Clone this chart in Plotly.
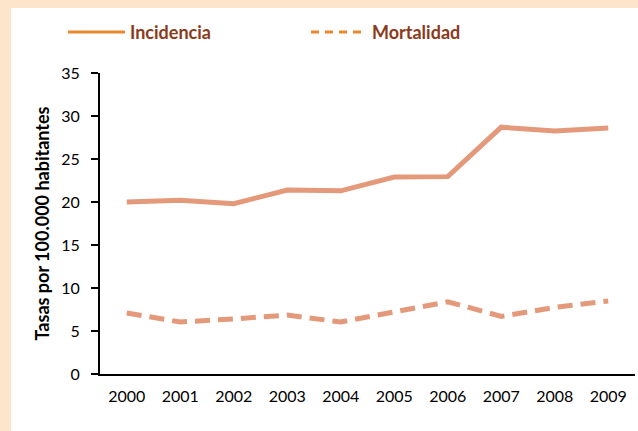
import plotly.graph_objects as go

years = [2000, 2001, 2002, 2003, 2004, 2005, 2006, 2007, 2008, 2009]
incidencia = [20.0, 20.2, 19.8, 21.4, 21.3, 22.9, 22.95, 28.7, 28.25, 28.6]
mortalidad = [7.1, 6.05, 6.4, 6.85, 6.05, 7.25, 8.4, 6.7, 7.75, 8.5]
y_ticks = [0, 5, 10, 15, 20, 25, 30, 35]
series_names = ["Incidencia", "Mortalidad"]

line_col = "#E3997A"
legend_col = "#E8892F"
text_col = "#8B3A1A"
font_fam = "Lato, Liberation Sans, sans-serif"

fig = go.Figure()
fig.add_trace(go.Scatter(x=years, y=incidencia, mode="lines", name=series_names[0],
                         showlegend=False, line=dict(color=line_col, width=5)))
fig.add_trace(go.Scatter(x=years, y=mortalidad, mode="lines", name=series_names[1],
                         showlegend=False,
                         line=dict(color=line_col, width=5, dash="15px,8px")))

# manual legend (long line samples like the original)
leg_y = 1.136
shapes = [
    dict(type="rect", xref="paper", yref="paper", x0=-0.1664, x1=1.1, y0=-0.3, y1=1.216,
         fillcolor="white", line=dict(width=0), layer="below"),
    dict(type="line", xref="paper", yref="paper", x0=-0.0598, x1=0.0467, y0=leg_y, y1=leg_y,
         line=dict(color=legend_col, width=3)),
    dict(type="line", xref="paper", yref="paper", x0=0.3944, x1=0.4879, y0=leg_y, y1=leg_y,
         line=dict(color=legend_col, width=3, dash="8px,6px")),
]
annotations = [
    dict(text=series_names[0], xref="paper", yref="paper", x=0.0523, y=leg_y,
         xanchor="left", yanchor="middle", showarrow=False,
         font=dict(size=18, color=text_col, weight="bold", family=font_fam)),
    dict(text=series_names[1], xref="paper", yref="paper", x=0.5047, y=leg_y,
         xanchor="left", yanchor="middle", showarrow=False,
         font=dict(size=18, color=text_col, weight="bold", family=font_fam)),
]

fig.update_layout(
    width=638, height=431,
    margin=dict(l=100, r=3, t=73, b=57),
    paper_bgcolor="#FDE5CC",
    plot_bgcolor="white",
    font=dict(family=font_fam, size=16, color="black"),
    showlegend=False,
    shapes=shapes,
    annotations=annotations,
)
fig.update_xaxes(range=[1999.5, 2009.5], tickmode="array", tickvals=years,
                 ticktext=[str(y) for y in years], showgrid=False, zeroline=False,
                 showline=True, linecolor="black", linewidth=2, ticks="",
                 ticklabelstandoff=7, tickfont=dict(size=16))
fig.update_yaxes(range=[0, 35], tickmode="array", tickvals=y_ticks,
                 showgrid=False, zeroline=False, showline=True, linecolor="black",
                 linewidth=2, ticks="outside", ticklen=7, tickwidth=2, tickcolor="black",
                 ticklabelstandoff=8, tickfont=dict(size=16),
                 title=dict(text="Tasas por 100.000 habitantes", standoff=7,
                            font=dict(size=18, weight="bold")))

fig.write_html("out.html", config={"displayModeBar": False},
               post_script="document.body.style.margin='0';")
